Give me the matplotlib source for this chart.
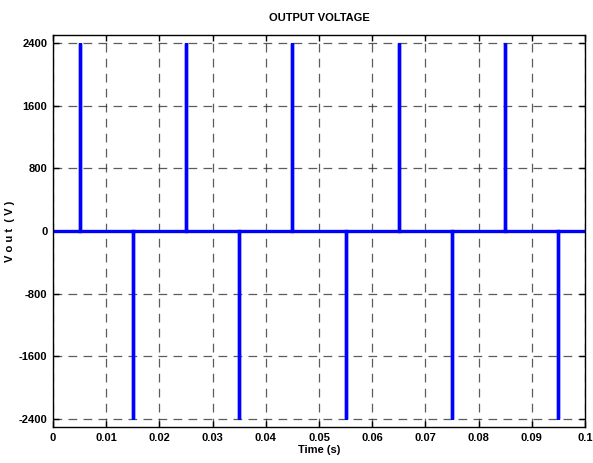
import numpy as np
import matplotlib.pyplot as plt

# pulse instants (s) and amplitudes (V)
pulse_times = [0.005, 0.015, 0.025, 0.035, 0.045, 0.055, 0.065, 0.075, 0.085, 0.095]
pulse_values = [2400, -2400, 2400, -2400, 2400, -2400, 2400, -2400, 2400, -2400]
pulse_width = 1e-6
t_end = 0.1

xticks = [0, 0.01, 0.02, 0.03, 0.04, 0.05, 0.06, 0.07, 0.08, 0.09, 0.1]
xtick_labels = ["0", "0.01", "0.02", "0.03", "0.04", "0.05", "0.06", "0.07", "0.08", "0.09", "0.1"]
yticks = [-2400, -1600, -800, 0, 800, 1600, 2400]

# build the step waveform from the pulse lists
t = [0.0]
v = [0.0]
for tp, vp in zip(pulse_times, pulse_values):
    t += [tp, tp, tp + pulse_width, tp + pulse_width]
    v += [0, vp, vp, 0]
t.append(t_end)
v.append(0.0)

plt.rcParams['font.family'] = ['Liberation Sans', 'DejaVu Sans']
plt.rcParams['font.weight'] = 'bold'
plt.rcParams['axes.unicode_minus'] = False

fig = plt.figure(figsize=(5.93, 4.63), dpi=100)
ax = fig.add_axes([0.0894, 0.0778, 0.8971, 0.8466])
ax.plot(t, v, color='#0000ff', lw=2.4, solid_joinstyle='miter')

ax.set_xlim(0, 0.1)
ax.set_ylim(-2500, 2500)
ax.set_xticks(xticks)
ax.set_xticklabels(xtick_labels)
ax.set_yticks(yticks)
ax.grid(True, color='#333333', linestyle=(0, (7, 5)), lw=0.9, alpha=0.8)
ax.tick_params(direction='in', top=True, right=True, labelsize=8, length=4, width=1, pad=4)
for s in ax.spines.values():
    s.set_linewidth(1)

ax.set_title("OUTPUT VOLTAGE", fontsize=8, fontweight='bold', pad=10)
ax.set_xlabel("Time (s)", fontsize=8, fontweight='bold', labelpad=2)
ax.set_ylabel("V o u t  ( V )", fontsize=8, fontweight='bold')
ax.yaxis.set_label_coords(-0.072, 0.5)

fig.savefig("out.png", dpi=100)
